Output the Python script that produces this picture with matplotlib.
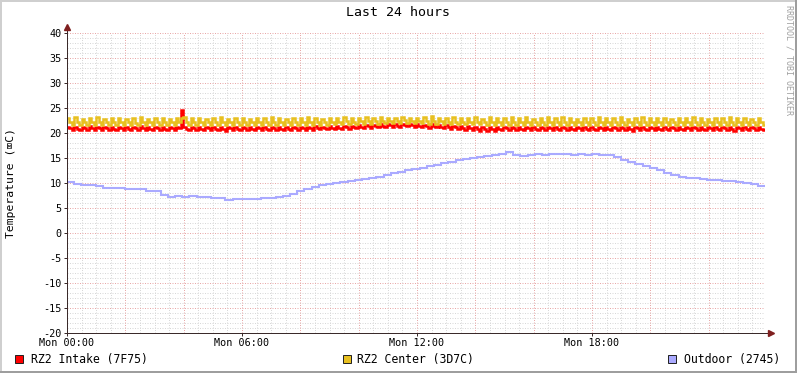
import numpy as np
import matplotlib
matplotlib.use('Agg')
import matplotlib.pyplot as plt
from matplotlib.patches import Rectangle

# ---------------- data ----------------
title = "Last 24 hours"
ylabel = "Temperature (\u2327C)"
watermark = "RRDTOOL / TOBI OETIKER"
x_tick_hours = [0, 6, 12, 18]
x_tick_labels = ["Mon 00:00", "Mon 06:00", "Mon 12:00", "Mon 18:00"]
y_ticks = [-20, -15, -10, -5, 0, 5, 10, 15, 20, 25, 30, 35, 40]
series_names = ["RZ2 Intake (7F75)", "RZ2 Center (3D7C)", "Outdoor (2745)"]
series_colors = ["#FF0000", "#E8C020", "#AAAAFF"]
span_hours = 23.93

# 5-minute samples
intake = [
    21.3,21.0,20.7, 21.2,20.9,20.6, 21.3,21.0,20.7, 21.4,21.0,20.7,
    21.3,21.0,20.6, 21.2,21.0,20.7, 21.3,20.9,20.7, 21.3,21.0,20.6,
    21.2,20.9,20.7, 21.3,21.0,20.6, 21.4,21.0,20.7, 21.2,20.9,20.6,
    21.3,21.0,20.7, 21.2,20.9,20.6, 21.3,21.0,20.7, 21.3,21.0,24.7,
    21.2,20.9,20.6, 21.3,21.0,20.7, 21.2,20.9,20.7, 21.3,21.0,20.6,
    21.3,20.9,20.6, 21.2,20.9,20.5, 21.3,21.0,20.7, 21.2,20.9,20.6,
    21.3,21.0,20.7, 21.2,20.9,20.6, 21.3,21.0,20.6, 21.2,20.9,20.6,
    21.3,21.0,20.7, 21.2,20.9,20.6, 21.3,20.9,20.6, 21.2,21.0,20.7,
    21.3,21.0,20.7, 21.3,21.0,20.7, 21.4,21.0,20.8, 21.3,21.0,20.8,
    21.4,21.1,20.8, 21.4,21.1,20.9, 21.5,21.2,20.9, 21.5,21.2,21.0,
    21.6,21.3,21.1, 21.7,21.4,21.1, 21.7,21.4,21.2, 21.8,21.5,21.2,
    21.9,21.6,21.3, 21.8,21.5,21.3, 21.9,21.6,21.4, 21.9,21.6,21.3,
    21.8,21.5,21.3, 21.7,21.4,21.1, 21.8,21.5,21.2, 21.7,21.3,21.0,
    21.6,21.2,20.9, 21.5,21.2,20.8, 21.4,21.1,20.7, 21.4,21.0,20.6,
    21.3,20.9,20.5, 21.2,20.8,20.4, 21.3,20.9,20.5, 21.2,20.9,20.6,
    21.3,21.0,20.6, 21.3,21.0,20.7, 21.2,20.9,20.6, 21.3,21.0,20.7,
    21.2,20.9,20.6, 21.3,21.0,20.7, 21.3,21.0,20.6, 21.2,20.9,20.6,
    21.3,21.0,20.7, 21.2,20.9,20.6, 21.3,21.0,20.7, 21.3,20.9,20.6,
    21.2,20.9,20.6, 21.3,21.0,20.7, 21.2,20.9,20.6, 21.3,21.0,20.7,
    21.3,21.0,20.7, 21.2,20.9,20.5, 21.3,21.0,20.6, 21.2,20.9,20.6,
    21.3,21.0,20.7, 21.3,20.9,20.6, 21.2,20.9,20.6, 21.3,21.0,20.7,
    21.2,20.9,20.6, 21.3,21.0,20.7, 21.3,21.0,20.6, 21.2,20.9,20.6,
    21.3,21.0,20.7, 21.2,20.9,20.6, 21.3,21.0,20.7, 21.2,20.9,20.5,
    21.3,21.0,20.6, 21.2,20.9,20.6, 21.3,21.0,20.7, 21.2,20.9,20.6,
]

center = [
    23.0,22.2,21.7, 23.2,22.3,21.7, 22.9,22.2,21.6, 23.1,22.2,21.7,
    23.2,22.3,21.7, 22.8,22.2,21.6, 23.0,22.3,21.7, 23.1,22.2,21.7,
    22.9,22.2,21.6, 23.0,22.1,21.6, 23.2,22.3,21.7, 22.9,22.2,21.7,
    23.0,22.2,21.7, 23.1,22.3,21.7, 22.8,22.2,21.6, 23.0,22.3,23.0,
    23.2,22.2,21.7, 23.0,22.2,21.6, 23.1,22.3,21.7, 22.9,22.2,21.7,
    23.0,22.3,21.7, 23.2,22.2,21.6, 22.9,22.2,21.7, 23.1,22.3,21.7,
    23.0,22.2,21.7, 22.8,22.2,21.6, 23.1,22.3,21.7, 23.0,22.2,21.7,
    23.2,22.3,21.7, 23.0,22.2,21.6, 22.9,22.2,21.7, 23.1,22.3,21.7,
    23.0,22.2,21.7, 23.2,22.3,21.7, 23.0,22.2,21.6, 22.9,22.2,21.7,
    23.1,22.3,21.8, 23.0,22.3,21.8, 23.2,22.4,21.8, 23.0,22.3,21.8,
    23.1,22.4,21.9, 23.3,22.5,21.9, 23.0,22.4,21.9, 23.2,22.5,22.0,
    23.1,22.5,22.0, 23.0,22.5,22.0, 23.3,22.6,22.0, 23.1,22.5,22.0,
    23.0,22.5,22.0, 23.2,22.4,21.9, 23.4,22.4,21.9, 23.1,22.4,21.9,
    23.0,22.3,21.9, 23.3,22.3,21.8, 23.1,22.3,21.8, 23.0,22.3,21.8,
    23.2,22.2,21.8, 22.9,22.2,21.7, 23.3,22.2,21.7, 23.0,22.2,21.7,
    23.1,22.2,21.7, 23.2,22.2,21.7, 23.0,22.2,21.7, 23.2,22.3,21.7,
    22.9,22.2,21.7, 23.1,22.2,21.6, 23.2,22.3,21.7, 23.0,22.2,21.7,
    23.2,22.3,21.7, 23.0,22.2,21.7, 22.9,22.2,21.6, 23.1,22.3,21.7,
    23.0,22.2,21.7, 23.3,22.3,21.7, 23.1,22.2,21.7, 23.0,22.2,21.6,
    23.2,22.3,21.7, 22.9,22.2,21.7, 23.0,22.2,21.6, 23.2,22.3,21.7,
    23.0,22.2,21.7, 23.1,22.3,21.7, 23.0,22.2,21.7, 22.9,22.2,21.6,
    23.1,22.3,21.7, 23.0,22.2,21.7, 23.2,22.3,21.7, 23.0,22.2,21.7,
    22.9,22.2,21.6, 23.1,22.3,21.7, 23.0,22.2,21.7, 23.2,22.3,21.7,
    23.0,22.2,21.7, 23.1,22.2,21.6, 22.9,22.3,21.7, 23.0,22.2,21.7,
]

# 15-minute samples
outdoor = [
    10.2, 9.9, 9.7, 9.6, 9.4, 9.1, 9.1, 9.0, 8.9, 8.9, 8.8, 8.5,
    8.5, 7.6, 7.3, 7.4, 7.3, 7.4, 7.3, 7.2, 7.0, 7.0, 6.6, 6.8,
    6.8, 6.8, 6.9, 7.1, 7.1, 7.2, 7.5, 7.8, 8.4, 8.9, 9.3, 9.6,
    9.8, 10.0, 10.2, 10.4, 10.6, 10.8, 11.0, 11.3, 11.6, 12.0, 12.3, 12.6,
    12.8, 13.1, 13.4, 13.6, 14.0, 14.3, 14.6, 14.8, 15.0, 15.2, 15.4, 15.6,
    15.8, 16.2, 15.6, 15.5, 15.7, 15.8, 15.7, 15.8, 15.9, 15.8, 15.7, 15.8,
    15.7, 15.8, 15.7, 15.7, 15.3, 14.6, 14.2, 13.8, 13.5, 13.1, 12.6, 12.1,
    11.6, 11.3, 11.1, 11.0, 10.9, 10.7, 10.6, 10.5, 10.4, 10.2, 10.0, 9.8,
    9.5,
]

# ---------------- figure ----------------
W, H = 797, 373
fig = plt.figure(figsize=(W / 100, H / 100), dpi=100)
fig.patch.set_facecolor('white')
MONO = ['DejaVu Sans Mono', 'DejaVu Sans']

def fx(x):
    return x / W

def fy(y):
    return 1 - y / H

# frame of image
fig.add_artist(Rectangle((0, 0), 1, 2 / H, transform=fig.transFigure, color='#9E9E9E', lw=0))
fig.add_artist(Rectangle((1 - 2 / W, 0), 2 / W, 1, transform=fig.transFigure, color='#9E9E9E', lw=0))
fig.add_artist(Rectangle((0, 1 - 2 / H), 1 - 2 / W, 2 / H, transform=fig.transFigure, color='#CFCFCF', lw=0))
fig.add_artist(Rectangle((0, 2 / H), 2 / W, 1 - 4 / H, transform=fig.transFigure, color='#CFCFCF', lw=0))

ax = fig.add_axes([fx(67), fy(333), 698 / W, 300 / H])
ax.set_xlim(0, span_hours)
ax.set_ylim(-20, 40)
ax.set_facecolor('white')
for s in ax.spines.values():
    s.set_visible(False)

px = 0.72
dot = (0, (1, 1.5))
minor_c = '#D8D8D8'
major_c = '#E8A8A8'
for v in np.arange(-20, 41, 1):
    if v % 5 != 0:
        ax.axhline(v, color=minor_c, lw=px, ls=dot, zorder=0)
for h in np.arange(0, 24.01, 0.5):
    if h % 2 != 0:
        ax.axvline(h, color=minor_c, lw=px, ls=dot, zorder=0)
for v in y_ticks:
    ax.axhline(v, color=major_c, lw=px, ls=dot, zorder=0.5)
for h in np.arange(0, 24.01, 2):
    ax.axvline(h, color=major_c, lw=px, ls=dot, zorder=0.5)

# series
def edges(n):
    return np.linspace(0, span_hours, n + 1)

ax.stairs(intake, edges(len(intake)), baseline=None, color=series_colors[0], lw=1.8, zorder=2)
ax.stairs(center, edges(len(center)), baseline=None, color=series_colors[1], lw=1.8, zorder=3)
ax.stairs(outdoor, edges(len(outdoor)), baseline=None, color=series_colors[2], lw=1.5, zorder=4)

# axes lines with arrows
x_end = (771 - 67) / 698 * span_hours
y_end = 40 + 6 / 5
ax.plot([0, x_end], [-20, -20], color='#3A2A2A', lw=px, clip_on=False, zorder=5)
ax.plot([0, 0], [-20, y_end], color='#3A2A2A', lw=px, clip_on=False, zorder=5)
ax.plot([x_end], [-20], marker='>', ms=4, color='#7F1F1F', mec='#7F1F1F', clip_on=False, zorder=6)
ax.plot([0], [y_end], marker='^', ms=4, color='#7F1F1F', mec='#7F1F1F', clip_on=False, zorder=6)

ax.set_yticks(y_ticks)
ax.set_yticklabels([str(v) for v in y_ticks], family=MONO, fontsize=7.3)
ax.set_xticks(x_tick_hours)
ax.set_xticklabels(x_tick_labels, family=MONO, fontsize=7.3)
ax.tick_params(axis='both', length=2.2, width=px, color='#3A2A2A', pad=1.5)

fig.text(fx(398), fy(13), title, ha='center', va='center', family=MONO, fontsize=9.5)
fig.text(fx(11), fy(183), ylabel, ha='center', va='center', rotation=90, family=MONO, fontsize=8.2)
fig.text(fx(789), fy(5), watermark, ha='center', va='top', rotation=270, family=MONO,
         fontsize=6, color='#A0A0A0')

# legend
legend_pos = [(15, 30.5), (342.5, 357), (668, 683.5)]
for (bx, tx), name, col in zip(legend_pos, series_names, series_colors):
    fig.add_artist(Rectangle((fx(bx), fy(363)), 8 / W, 8 / H, transform=fig.transFigure,
                             facecolor=col, edgecolor='#202020', lw=0.7))
    fig.text(fx(tx), fy(359), name, ha='left', va='center', family=MONO, fontsize=8.3)

fig.savefig('out.png', dpi=100, facecolor='white')
